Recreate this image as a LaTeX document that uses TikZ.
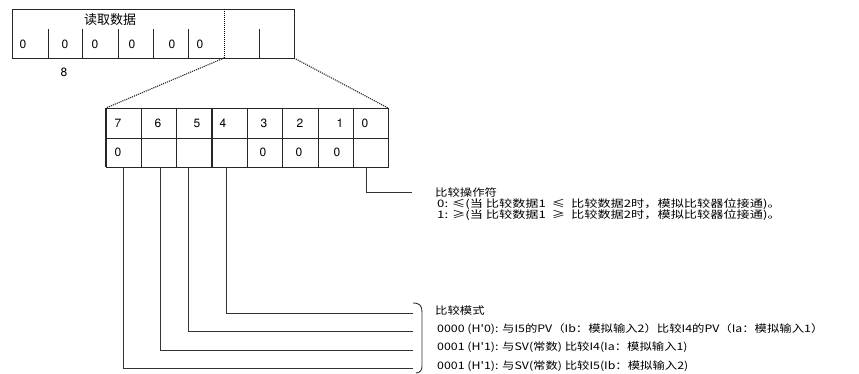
\documentclass[tikz,border=0pt]{standalone}
\usepackage{fontspec}
\setmainfont{TeX Gyre Heros}
\newfontfamily\cjk{Noto Sans CJK SC}
\newfontfamily\cjkw[FakeStretch=1.2]{Noto Sans CJK SC}
\newfontfamily\cjkx[FakeStretch=1.28]{Noto Sans CJK SC}
\begin{document}
\begin{tikzpicture}[x=1pt,y=-1pt,
  reg/.style={line width=0.8pt, draw=black!85},
  nib/.style={line width=1.4pt, draw=black!85},
  expand/.style={line width=1.1pt, densely dotted, draw=black!85},
  conn/.style={line width=0.9pt, draw=black!80},
  digit/.style={font=\fontsize{12}{13}\selectfont, inner sep=0pt},
  label/.style={font=\cjkw\fontsize{10.3}{11}\selectfont, inner sep=0pt, anchor=west},
  oplabel/.style={font=\cjkx\fontsize{10.3}{11}\selectfont, inner sep=0pt, anchor=west},
]
\useasboundingbox[fill=white] (0,0) rectangle (859,374);
% ---------- top register ----------
\draw[reg] (12,9) rectangle (294,58);
\foreach \x in {48,82,118,153,188,259} \draw[reg] (\x,29) -- (\x,58);
\draw[line width=1pt, densely dotted] (224,9) -- (224,58);
\node[font=\cjk\fontsize{13}{14}\selectfont, inner sep=0pt] (rdtitle) at (110,20) {读取数据};
\foreach \x/\n in {23/a,65/b,95/c,132/d,172/e,200/f}
  \node[digit] (t\n) at (\x,44) {0};
\node[digit] (eight) at (64,72) {8};
\coordinate (tl) at (224,58);
\coordinate (tr) at (294,58);
% ---------- lower register ----------
\draw[reg] (106,108) rectangle (388,167);
\draw[reg] (106,138) -- (388,138);
\foreach \x in {141,176,247,282,318,353} \draw[reg] (\x,108) -- (\x,167);
\draw[nib] (212,108) -- (212,167);
\draw[nib] (106,108) -- (106,167);
\coordinate (bl) at (106,108);
\coordinate (br) at (388,108);
\draw[expand] (tl) -- (bl);
\draw[expand] (tr) -- (br);
% bit numbers
\foreach \x/\d in {118/7,158/6,197/5,223/4,264/3,300/2,340/1,365/0}
  \node[digit] (n\d) at (\x,123) {\d};
\foreach \x/\d in {118/7,263/3,299/2,337/1}
  \node[digit] (z\d) at (\x,152) {0};
% connector sources
\coordinate (s0) at (366,167);
\coordinate (s4) at (226,167);
\coordinate (s5) at (188,167);
\coordinate (s6) at (160,167);
\coordinate (s7) at (123,167);
% ---------- labels ----------
\node[label] (optitle) at (435,193) {比较操作符};
\node[oplabel] (op0) at (437,204) {0: ≤(当\hspace{3pt}比较数据1\hspace{6pt}≤\hspace{6pt}比较数据2时，模拟比较器位接通)。};
\node[oplabel] (op1) at (437,215) {1: ≥(当\hspace{3pt}比较数据1\hspace{6pt}≥\hspace{6pt}比较数据2时，模拟比较器位接通)。};
\coordinate (e0) at (412,192);
\draw[conn] (s0) |- (e0);

\node[label] (mdtitle) at (435,311) {比较模式};
\node[label] (md0) at (437,329) {0000 (H'0): 与I5的PV（Ib：模拟输入2）比较I4的PV（Ia：模拟输入1）};
\node[label] (md1) at (437,347.5) {0001 (H'1): 与SV(常数) 比较I4(Ia：模拟输入1)};
\node[label] (md2) at (437,366) {0001 (H'1): 与SV(常数) 比较I5(Ib：模拟输入2)};
\coordinate (e4) at (413,313);
\coordinate (e5) at (413,331);
\coordinate (e6) at (413,350);
\coordinate (e7) at (413,368);
\draw[conn] (s4) |- (e4);
\draw[conn] (s5) |- (e5);
\draw[conn] (s6) |- (e6);
\draw[conn] (s7) |- (e7);
% bracket
\draw[conn] (413,303) .. controls (420,303) and (422,306) .. (422,312)
  -- (422,366) .. controls (422,370) and (420,373) .. (416,373);
\end{tikzpicture}
\end{document}
